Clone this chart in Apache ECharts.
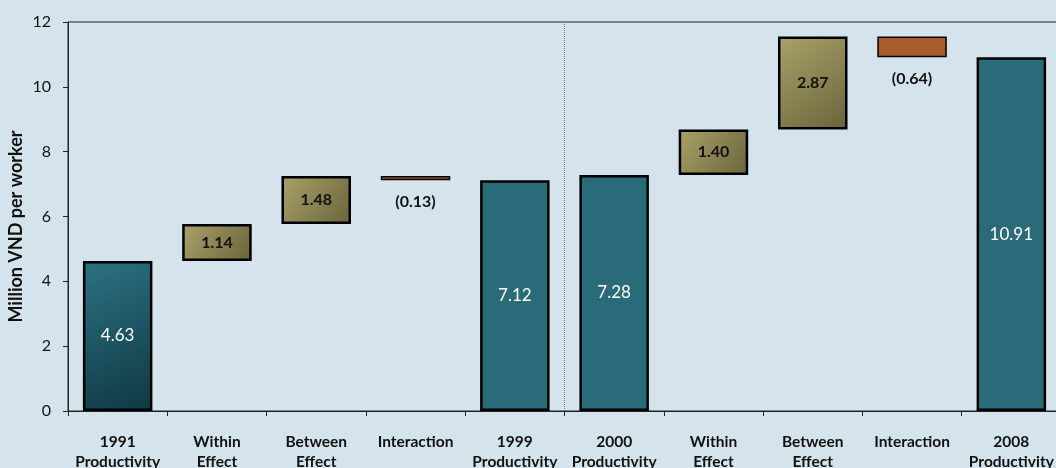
<!DOCTYPE html>
<html>
<head>
<meta charset="utf-8">
<script src="https://cdn.jsdelivr.net/npm/echarts@6/dist/echarts.min.js"></script>
<style>
html,body{margin:0;padding:0;background:#d5e4ec;}
#c{width:1056px;height:468px;}
</style>
</head>
<body>
<div id="c"></div>
<script>
const categories = ['1991\nProductivity','Within\nEffect','Between\nEffect','Interaction','1999\nProductivity','2000\nProductivity','Within\nEffect','Between\nEffect','Interaction','2008\nProductivity'];
// 'total' = level bar from zero, 'delta' = change from previous level
const kinds = ['total','delta','delta','delta','total','total','delta','delta','delta','total'];
const values = [4.63, 1.14, 1.48, -0.13, 7.12, 7.28, 1.40, 2.87, -0.64, 10.91];
const yTicks = [0, 2, 4, 6, 8, 10, 12];
const periodDivider = 5; // boundary index between the two periods

const tealGrad = new echarts.graphic.LinearGradient(0,0,1,1,[{offset:0,color:'#2c7282'},{offset:1,color:'#0f3843'}]);
const goldGrad = new echarts.graphic.LinearGradient(0,0,1,1,[{offset:0,color:'#aaa268'},{offset:1,color:'#6a643c'}]);
const teal = '#2a6b79';
const orange = '#a95b29';

const baseData = [], barData = [];
let level = 0;
values.forEach((v, i) => {
  if (kinds[i] === 'total') {
    level = v;
    baseData.push(0);
    barData.push({
      value: v,
      itemStyle: {color: i === 0 ? tealGrad : teal},
      label: {show: true, position: 'inside', color: '#fff', fontSize: 17, fontWeight: 'normal', formatter: v.toFixed(2)}
    });
  } else {
    const start = level, end = level + v;
    level = end;
    baseData.push(Math.min(start, end));
    if (v >= 0) {
      barData.push({
        value: v,
        itemStyle: {color: goldGrad},
        label: {show: true, position: 'inside', color: '#111', fontSize: 16, fontWeight: 'bold', formatter: v.toFixed(2)}
      });
    } else {
      barData.push({
        value: -v,
        itemStyle: {color: orange, borderWidth: 1.5},
        label: {show: true, position: 'bottom', distance: 14, color: '#111', fontSize: 16, fontWeight: 'bold', formatter: '(' + (-v).toFixed(2) + ')'}
      });
    }
  }
});

const chart = echarts.init(document.getElementById('c'), null, {renderer: 'canvas'});
chart.setOption({
  backgroundColor: '#d5e4ec',
  animation: false,
  textStyle: {fontFamily: 'Lato'},
  grid: {left: 68, top: 22, bottom: 57, right: -5, outerBoundsMode: 'none', containLabel: false, show: true, borderColor: '#222', borderWidth: 1, backgroundColor: 'transparent'},
  xAxis: [{
    type: 'category',
    data: categories,
    axisLine: {lineStyle: {color: '#222', width: 1}},
    axisTick: {show: true, length: 5, lineStyle: {color: '#222'}},
    axisLabel: {interval: 0, color: '#111', fontSize: 15.5, fontWeight: 'bold', lineHeight: 20, margin: 21, fontFamily: 'Lato'},
    splitLine: {show: false}
  }, {
    type: 'value',
    position: 'top',
    min: 0, max: categories.length, interval: periodDivider,
    axisLine: {show: false}, axisTick: {show: false}, axisLabel: {show: false},
    splitLine: {show: true, lineStyle: {type: 'dotted', color: '#777', width: 1}}
  }],
  yAxis: {
    type: 'value',
    min: yTicks[0], max: yTicks[yTicks.length - 1], interval: 2,
    name: 'Million VND per worker',
    nameLocation: 'middle',
    nameGap: 43,
    nameMoveOverlap: false,
    nameTextStyle: {fontSize: 18, fontWeight: 'bold', color: '#111', fontFamily: 'Lato', padding: [0, 20, 0, 0]},
    axisLine: {show: true, lineStyle: {color: '#222', width: 1}},
    axisTick: {show: true, length: 5, lineStyle: {color: '#222'}},
    axisLabel: {color: '#111', fontSize: 16, margin: 17, fontFamily: 'Lato'},
    splitLine: {show: false}
  },
  series: [
    {type: 'bar', stack: 'w', xAxisIndex: 0, data: baseData, itemStyle: {color: 'transparent'}, barWidth: '70%', silent: true},
    {type: 'bar', stack: 'w', xAxisIndex: 0, data: barData, barWidth: '70%', itemStyle: {borderColor: '#000', borderWidth: 2.5}}
  ]
});
</script>
</body>
</html>
